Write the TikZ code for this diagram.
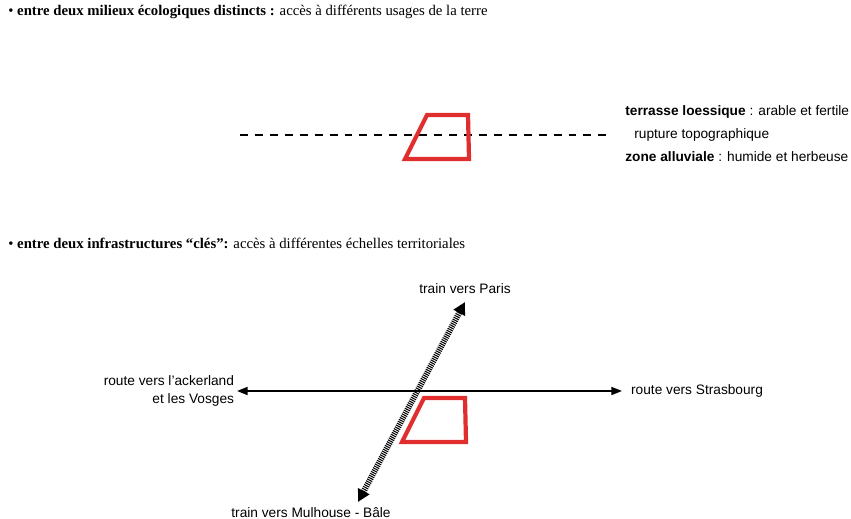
\documentclass[tikz,border=0pt]{standalone}
\usepackage{fontspec}
\setmainfont{Liberation Serif}
\setsansfont{Liberation Sans}
\usetikzlibrary{positioning, arrows.meta}
\definecolor{siteRed}{RGB}{224,46,46}

\begin{document}
\begin{tikzpicture}[
    x=0.02cm, y=-0.02cm,
    heading/.style={anchor=west, inner sep=0pt, font=\fontsize{8.4}{10}\selectfont\rmfamily},
    lbl/.style={inner sep=0pt, font=\fontsize{7.8}{9.8}\selectfont\sffamily},
    site/.style={draw=siteRed, line width=2.4pt, line join=miter},
    rupture/.style={line width=0.9pt, dash pattern=on 4.5pt off 4pt},
    road/.style={{Triangle[length=6pt, width=4.5pt]}-{Triangle[length=6pt, width=4.5pt]}, line width=1pt},
    rail/.style={{Triangle[length=7pt, width=7pt]}-{Triangle[length=7pt, width=7pt]}, line width=3.4pt, dash pattern=on 0.6pt off 0.6pt},
]
\useasboundingbox (0,0) rectangle (851,519);

% Part 1: two ecological zones
\node[heading] (head1) at (8,12) {\textbullet\ \textbf{entre deux milieux écologiques distincts :} accès à différents usages de la terre};

\coordinate (rupL) at (240,135);
\coordinate (rupR) at (613,135);
\draw[rupture] (rupL) -- (rupR);
\draw[site] (427,115) -- (468,115) -- (469,159) -- (405,159) -- cycle;

\node[lbl, anchor=west] (terrasse) at (625,112) {\textbf{terrasse loessique} : arable et fertile};
\node[lbl, anchor=west] (rupture) at (634,135) {rupture topographique};
\node[lbl, anchor=west] (zone) at (625,157) {\textbf{zone alluviale} : humide et herbeuse};

% Part 2: two key infrastructures
\node[heading] (head2) at (8,243) {\textbullet\ \textbf{entre deux infrastructures “clés”:} accès à différentes échelles territoriales};

\node[lbl, anchor=east, align=right, inner xsep=1.5pt] (routeW) at (237,391) {route vers l’ackerland\\et les Vosges};
\node[lbl, anchor=west, inner xsep=5pt] (routeE) at (622,391) {route vers Strasbourg};
\draw[road] (routeW) -- (routeE);

\coordinate (paris) at (465,302);
\coordinate (bale) at (358,502);
\node[lbl] (trainN) at (465,289) {train vers Paris};
\node[lbl] (trainS) at (311,513) {train vers Mulhouse - Bâle};
\draw[rail] (bale) -- (paris);

\draw[site] (424,398) -- (465,398) -- (466,442) -- (402,442) -- cycle;

\end{tikzpicture}
\end{document}
